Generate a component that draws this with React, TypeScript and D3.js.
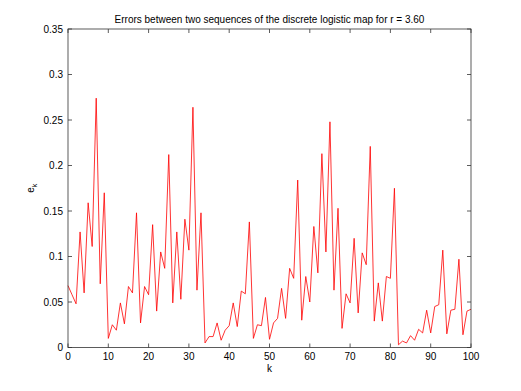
import React from "react";
import * as d3 from "d3";

const kValues: number[] = d3.range(0, 101);
const errors: number[] = [
  0.068, 0.058, 0.048, 0.127, 0.06, 0.159, 0.111, 0.274, 0.07, 0.17,
  0.01, 0.025, 0.019, 0.049, 0.026, 0.067, 0.06, 0.148, 0.027, 0.067,
  0.058, 0.135, 0.04, 0.105, 0.087, 0.212, 0.049, 0.127, 0.053, 0.141,
  0.107, 0.264, 0.063, 0.148, 0.005, 0.012, 0.012, 0.027, 0.008, 0.019,
  0.024, 0.049, 0.023, 0.062, 0.059, 0.138, 0.01, 0.025, 0.024, 0.055,
  0.009, 0.027, 0.032, 0.065, 0.032, 0.087, 0.076, 0.184, 0.03, 0.078,
  0.05, 0.133, 0.082, 0.213, 0.105, 0.248, 0.063, 0.153, 0.021, 0.059,
  0.049, 0.12, 0.038, 0.104, 0.091, 0.221, 0.029, 0.071, 0.029, 0.078,
  0.076, 0.175, 0.003, 0.007, 0.005, 0.013, 0.008, 0.02, 0.016, 0.041,
  0.016, 0.045, 0.047, 0.107, 0.015, 0.041, 0.042, 0.097, 0.014, 0.04,
  0.042,
];
const xTicks: number[] = [0, 10, 20, 30, 40, 50, 60, 70, 80, 90, 100];
const yTicks: number[] = [0, 0.05, 0.1, 0.15, 0.2, 0.25, 0.3, 0.35];
const yTickLabels: string[] = ["0", "0.05", "0.1", "0.15", "0.2", "0.25", "0.3", "0.35"];
const titleText = "Errors between two sequences of the discrete logistic map for r = 3.60";

export default function App() {
  const W = 521, H = 391;
  const left = 68, right = 471, top = 29, bottom = 347.5;
  const x = d3.scaleLinear().domain([0, 100]).range([left, right]);
  const y = d3.scaleLinear().domain([0, 0.35]).range([bottom, top]);
  const line = d3
    .line<number>()
    .x((_, i) => x(kValues[i]))
    .y((d) => y(d));
  const font = "'Liberation Sans', Arial, sans-serif";
  const axisColor = "#333";
  const tl = 4;
  return (
    <svg
      width={W}
      height={H}
      style={{ position: "absolute", left: 0, top: 0, background: "#fff" }}
      fontFamily={font}
    >
      <rect x={0} y={0} width={W} height={H} fill="#fff" />
      <path d={line(errors) || ""} fill="none" stroke="#ff0000" strokeWidth={0.8} />
      <rect
        x={left}
        y={top}
        width={right - left}
        height={bottom - top}
        fill="none"
        stroke={axisColor}
        strokeWidth={0.8}
      />
      {xTicks.map((t) => (
        <g key={"x" + t}>
          <line x1={x(t)} x2={x(t)} y1={bottom} y2={bottom - tl} stroke={axisColor} strokeWidth={0.8} />
          <line x1={x(t)} x2={x(t)} y1={top} y2={top + tl} stroke={axisColor} strokeWidth={0.8} />
          <text x={x(t)} y={bottom + 12} fontSize={10} textAnchor="middle" fill="#000">
            {t}
          </text>
        </g>
      ))}
      {yTicks.map((t, i) => (
        <g key={"y" + t}>
          <line x1={left} x2={left + tl} y1={y(t)} y2={y(t)} stroke={axisColor} strokeWidth={0.8} />
          <line x1={right} x2={right - tl} y1={y(t)} y2={y(t)} stroke={axisColor} strokeWidth={0.8} />
          <text x={left - 5} y={y(t) + 3.5} fontSize={10} textAnchor="end" fill="#000">
            {yTickLabels[i]}
          </text>
        </g>
      ))}
      <text x={(left + right) / 2} y={23} fontSize={10} textAnchor="middle" fill="#000">
        {titleText}
      </text>
      <text x={(left + right) / 2} y={372} fontSize={10} textAnchor="middle" fill="#000">
        k
      </text>
      <text
        transform={`translate(34, ${(top + bottom) / 2}) rotate(-90)`}
        fontSize={10}
        textAnchor="middle"
        fill="#000"
      >
        e<tspan fontSize={7} dy={3}>k</tspan>
      </text>
    </svg>
  );
}
